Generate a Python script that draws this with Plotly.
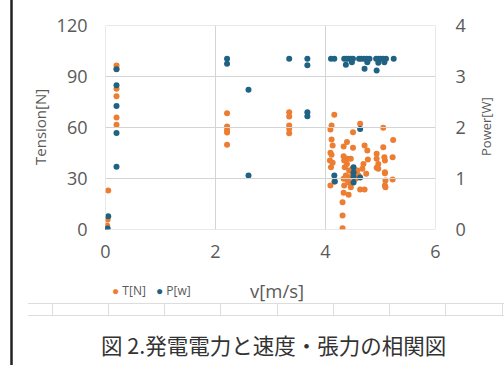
import plotly.graph_objects as go

# ---- data: Tension T[N] vs v[m/s] ----
t_v = [0.00, 0.02, 0.03, 0.04, 0.05,
       0.20, 0.20, 0.20, 0.20, 0.20, 0.20,
       2.21, 2.21, 2.21, 2.21, 2.21,
       3.34, 3.34, 3.34, 3.34, 3.34,
       4.16, 4.11, 4.09, 4.63, 4.50, 5.05, 4.11, 4.39, 4.33, 4.13,
       4.50, 4.71, 4.76, 5.23, 5.05, 4.09, 4.11, 4.08, 4.13, 4.10,
       4.33, 4.40, 4.34, 4.46, 4.39, 4.35, 4.43, 4.37, 4.33, 4.40,
       4.43, 4.34, 4.58, 4.69, 4.77, 4.67, 4.74, 4.93, 4.93, 4.96,
       4.96, 5.07, 5.08, 5.22, 5.08, 5.09, 5.08, 5.22, 4.63, 4.71,
       4.09, 4.16, 4.33, 4.42, 4.31, 4.31, 4.31, 4.46, 4.55, 4.60,
       4.43, 4.49, 4.49, 5.09, 4.93, 5.08]
t_val = [0.5, 1.2, 2.4, 5.9, 23.0,
         96.5, 94.5, 82.8, 78.4, 65.9, 61.6,
         68.4, 60.6, 58.6, 57.0, 49.8,
         68.9, 66.5, 61.2, 59.2, 56.6,
         67.5, 61.2, 58.8, 62.2, 57.2, 59.8, 52.9, 51.4, 48.8, 49.4,
         48.1, 49.4, 46.5, 52.6, 48.4, 45.1, 43.9, 40.6, 39.2, 36.6,
         43.1, 41.6, 40.6, 41.6, 38.6, 36.6, 34.7, 31.8, 29.8, 28.8,
         27.5, 25.9, 34.7, 38.6, 41.2, 35.7, 32.8, 44.5, 41.6, 38.6,
         35.7, 42.5, 40.6, 42.5, 33.7, 28.8, 25.9, 29.4, 23.5, 23.5,
         25.9, 28.2, 21.6, 20.4, 16.1, 8.2, 0.8, 24.9, 29.8, 31.8,
         30.8, 32.8, 35.7, 24.9, 36.3, 33.1]

# ---- data: Power P[W] vs v[m/s] ----
p_v = [0.00, 0.02, 0.04, 0.05,
       0.20, 0.20, 0.20, 0.20, 0.20,
       2.21, 2.21, 2.60, 2.60, 3.34,
       3.67, 3.67, 3.67, 3.67,
       4.10, 4.16, 4.34, 4.38, 4.42, 4.46, 4.50, 4.61, 4.65, 4.70,
       4.75, 4.80, 4.92, 4.96, 5.00, 5.05, 5.10, 5.24,
       4.37, 4.48, 4.71, 4.76, 4.93, 5.07, 4.96,
       4.63, 4.51, 4.51, 4.51, 4.51, 4.16, 4.17, 4.63]
p_val = [0.00, 0.00, 0.02, 0.26,
         3.14, 2.83, 2.42, 1.89, 1.23,
         3.35, 3.25, 2.74, 1.06, 3.35,
         3.35, 3.22, 2.30, 2.22,
         3.35, 3.35, 3.35, 3.35, 3.35, 3.35, 3.35, 3.35, 3.35, 3.35,
         3.35, 3.35, 3.35, 3.35, 3.35, 3.35, 3.35, 3.35,
         3.23, 3.28, 3.15, 3.28, 3.12, 3.28, 3.27,
         1.97, 1.22, 1.12, 1.03, 0.92, 1.06, 0.94, 1.02]

x_ticks = [0, 2, 4, 6]
y_ticks = [0, 30, 60, 90, 120]
y2_ticks = [0, 1, 2, 3, 4]

ORANGE = "#ED7D31"
BLUE = "#1F6284"
GRID = "#d4d4d4"
TXT = "#595959"
FONT = "Open Sans, Liberation Sans, Arial"
W, H = 504, 365

x0, x1 = 105.5 / W, 435.5 / W
yb, yt = 1 - 229.5 / H, 1 - 25.5 / H

fig = go.Figure()
fig.add_trace(go.Scatter(x=t_v, y=t_val, mode="markers", name="T[N]",
                         marker=dict(color=ORANGE, size=6), showlegend=False))
fig.add_trace(go.Scatter(x=p_v, y=p_val, mode="markers", name="P[w]", yaxis="y2",
                         marker=dict(color=BLUE, size=6), showlegend=False))

tickfont = dict(family=FONT, size=18, color=TXT)

fig.update_layout(
    width=W, height=H, margin=dict(l=0, r=0, t=0, b=0, autoexpand=False),
    paper_bgcolor="white", plot_bgcolor="white", showlegend=False,
    xaxis=dict(domain=[x0, x1], range=[0, 6], tickvals=x_ticks, showgrid=False,
               zeroline=False, showline=False, automargin=False,
               tickfont=tickfont, ticklabelstandoff=9),
    yaxis=dict(domain=[yb, yt], range=[0, 120], tickvals=y_ticks, showgrid=False,
               zeroline=False, showline=False, automargin=False,
               tickfont=tickfont, ticklabelstandoff=17),
    yaxis2=dict(overlaying="y", side="right", range=[0, 4], tickvals=y2_ticks,
                showgrid=False, zeroline=False, showline=False, automargin=False,
                tickfont=tickfont, ticklabelstandoff=19),
    font=dict(family=FONT, color=TXT),
)

annos = [
    dict(text="Tension[N]", x=40 / W, y=1 - 127 / H, textangle=-90,
         font=dict(size=15, color=TXT, family=FONT)),
    dict(text="Power[W]", x=486 / W, y=1 - 127 / H, textangle=-90,
         font=dict(size=13, color=TXT, family=FONT)),
    dict(text="v[m/s]", x=277 / W, y=1 - 290 / H,
         font=dict(size=18.5, color=TXT, family=FONT)),
    dict(text=f"<span style='color:{ORANGE}'>●</span> T[N]", x=110 / W, y=1 - 290 / H,
         xanchor="left", font=dict(size=12, color=TXT, family=FONT)),
    dict(text=f"<span style='color:{BLUE}'>●</span> P[w]", x=154 / W, y=1 - 290 / H,
         xanchor="left", font=dict(size=12, color=TXT, family=FONT)),
    dict(text="図 2.発電電力と速度・張力の相関図", x=273 / W, y=1 - 344 / H,
         font=dict(size=21.5, color="#333333", family="Noto Sans CJK JP")),
]
for a in annos:
    a.setdefault("xanchor", "center")
    a.update(xref="paper", yref="paper", showarrow=False, yanchor="middle")
    fig.add_annotation(**a)

shapes = []
# vertical gridlines at the x tick positions (below data)
for xv in x_ticks:
    shapes.append(dict(type="line", xref="x", yref="y", x0=xv, x1=xv, y0=y_ticks[0], y1=y_ticks[-1],
                       line=dict(color=GRID, width=1), layer="below"))
# horizontal gridlines at the tension tick positions (upper shape layer)
for yv in y_ticks:
    shapes.append(dict(type="line", xref="x", yref="y", x0=x_ticks[0], x1=x_ticks[-1], y0=yv, y1=yv,
                       line=dict(color=GRID, width=1), layer="above"))
# page decorations
shapes += [
    dict(type="line", xref="paper", yref="paper", x0=11.5 / W, x1=11.5 / W, y0=0, y1=1,
         line=dict(color="#222222", width=2.5)),
    dict(type="line", xref="paper", yref="paper", x0=28 / W, x1=1, y0=1 - 303.5 / H, y1=1 - 303.5 / H,
         line=dict(color="#dddddd", width=1)),
    dict(type="line", xref="paper", yref="paper", x0=28 / W, x1=1, y0=1 - 315.5 / H, y1=1 - 315.5 / H,
         line=dict(color="#dddddd", width=1)),
]
for xc in [52.5, 108.5, 164.5, 220.5, 277.5, 333.5, 389.5, 445.5, 502.5]:
    shapes.append(dict(type="line", xref="paper", yref="paper", x0=xc / W, x1=xc / W,
                       y0=1 - 315.5 / H, y1=1 - 303.5 / H, line=dict(color="#dddddd", width=1)))
fig.update_layout(shapes=shapes)

fig.write_html("out.html")
